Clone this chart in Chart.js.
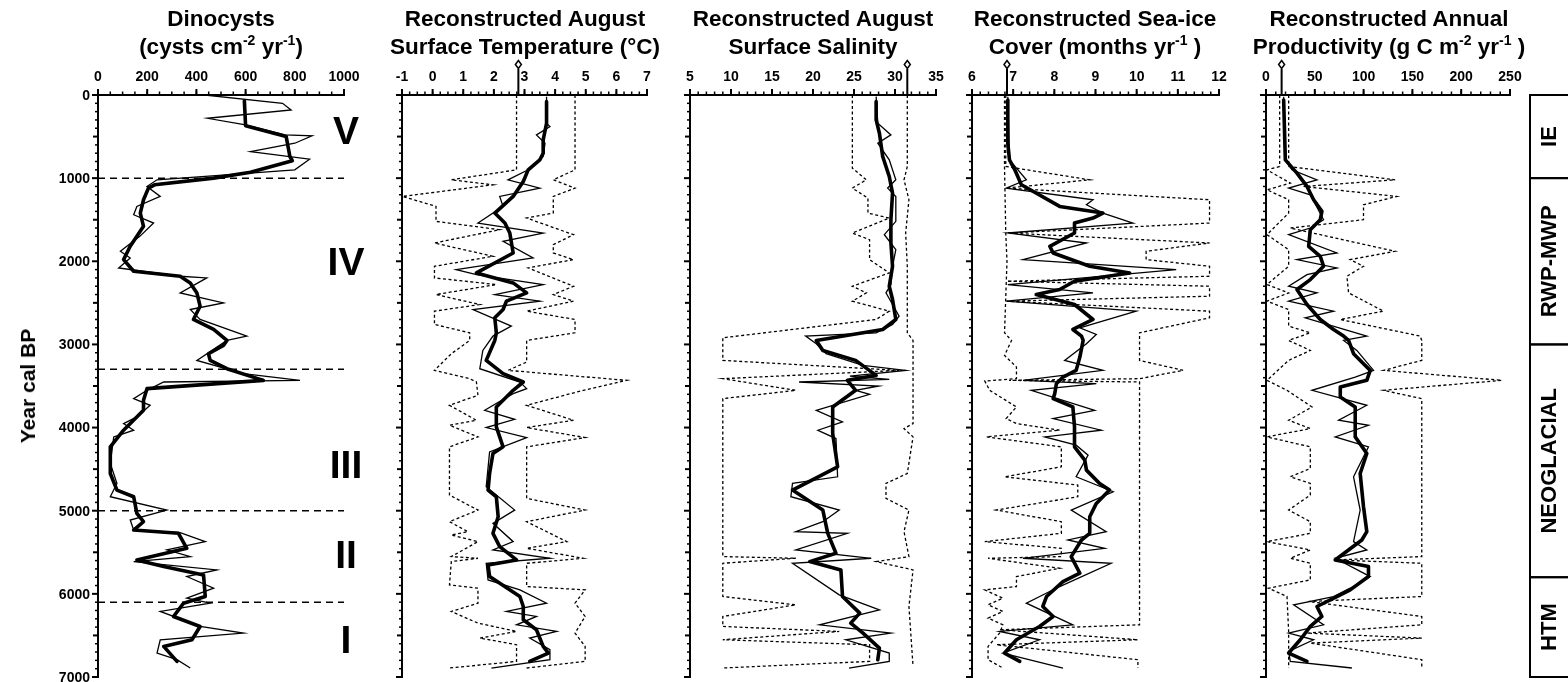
<!DOCTYPE html>
<html>
<head>
<meta charset="utf-8">
<title>Holocene dinocyst record</title>
<script src="https://cdn.jsdelivr.net/npm/chart.js@4.4.1/dist/chart.umd.min.js"></script>
<style>
  html, body { margin: 0; padding: 0; background: #fff; overflow: hidden; }
  #wrap { position: relative; width: 1568px; height: 682px; }
  #wrap canvas { position: absolute; left: 0; top: 0; }
  .title {
    position: absolute; top: 5px; transform: translateX(-50%);
    font: bold 22.5px "Liberation Sans", Arial, Helvetica, sans-serif;
    line-height: 28px; text-align: center; white-space: nowrap; color: #000;
  }
  .title sup { font-size: 14px; line-height: 0; vertical-align: 9px; }
  #ytitle {
    position: absolute; left: 28px; top: 386px;
    transform: translate(-50%, -50%) rotate(-90deg);
    font: bold 21px "Liberation Sans", Arial, Helvetica, sans-serif; white-space: nowrap;
  }
</style>
</head>
<body>
<div id="wrap">
  <canvas id="c1" width="1568" height="682"></canvas>
  <canvas id="c2" width="1568" height="682"></canvas>
  <canvas id="c3" width="1568" height="682"></canvas>
  <canvas id="c4" width="1568" height="682"></canvas>
  <canvas id="c5" width="1568" height="682"></canvas>
  <div class="title" style="left:221px">Dinocysts<br>(cysts cm<sup>-2</sup> yr<sup>-1</sup>)</div>
  <div class="title" style="left:525px">Reconstructed August<br>Surface Temperature (°C)</div>
  <div class="title" style="left:813px">Reconstructed August<br>Surface Salinity</div>
  <div class="title" style="left:1095px">Reconstructed Sea-ice<br>Cover (months yr<sup>-1</sup> )</div>
  <div class="title" style="left:1389px">Reconstructed Annual<br>Productivity (g C m<sup>-2</sup> yr<sup>-1</sup> )</div>
  <div id="ytitle">Year cal BP</div>
</div>
<script>
// ---- age axis ----
const yearTicks = [0, 1000, 2000, 3000, 4000, 5000, 6000, 7000];
const zoneBoundaries = [1000, 3300, 5000, 6100];
const zoneNumerals = [['V', 430], ['IV', 2015], ['III', 4450], ['II', 5530], ['I', 6560]];
const periods = [['IE', 0, 1000], ['RWP-MWP', 1000, 3000], ['NEOGLACIAL', 3000, 5800], ['HTM', 5800, 7000]];

// ---- dinocyst fluxes [year, cysts cm-2 yr-1] ----
const dinoTicks = [0, 200, 400, 600, 800, 1000];
const dinoRaw = [[0,435],[100,750],[180,785],[280,445],[360,600],[480,760],[490,870],[580,800],[680,620],[772,860],[900,800],[1020,240],[1100,199],[1220,253],[1340,158],[1440,145],[1540,226],[1700,170],[1880,91],[1960,131],[2080,84],[2180,334],[2200,442],[2380,334],[2500,510],[2580,375],[2700,415],[2900,605],[2952,524],[3192,402],[3352,591],[3432,821],[3452,267],[3552,199],[3652,145],[3732,212],[3872,158],[3952,104],[4032,145],[4112,64],[4432,50],[4672,77],[4832,50],[4992,280],[5112,131],[5232,145],[5264,334],[5372,436],[5472,280],[5552,375],[5612,145],[5712,483],[5792,361],[5932,470],[6052,361],[6112,456],[6212,253],[6392,415],[6472,591],[6552,253],[6712,240],[6792,321],[6892,375]];
const dinoSmooth = [[70,595],[370,600],[500,765],[740,780],[790,790],[930,620],[1000,470],[1080,230],[1120,205],[1260,185],[1420,172],[1580,185],[1820,131],[1980,104],[2120,145],[2180,334],[2260,375],[2380,402],[2540,415],[2700,388],[2820,470],[2952,524],[3012,510],[3112,449],[3192,456],[3292,524],[3432,672],[3532,199],[3672,185],[3792,185],[4032,104],[4232,50],[4552,50],[4752,77],[4832,145],[5032,158],[5132,185],[5232,145],[5272,327],[5452,361],[5592,158],[5672,267],[5772,429],[6032,436],[6112,348],[6272,307],[6392,415],[6552,382],[6632,267],[6812,321]];

// ---- August sea-surface temperature [year, °C] ----
const tempTicks = [-1, 0, 1, 2, 3, 4, 5, 6, 7];
const tempModern = 2.8;
const tempRaw = [[20,3.72],[340,3.72],[380,3.83],[480,3.39],[580,3.67],[740,3.61],[900,3.12],[1020,2.46],[1120,3.50],[1220,2.19],[1340,2.30],[1540,1.48],[1660,3.61],[1760,2.30],[1960,3.28],[2100,0.77],[2160,1.43],[2280,3.61],[2400,2.03],[2480,3.50],[2580,1.32],[2780,2.57],[2900,1.97],[3072,1.64],[3292,1.54],[3452,2.85],[3532,3.07],[3592,2.63],[3792,1.70],[3900,2.68],[4000,1.75],[4120,3.07],[4292,1.86],[4712,1.75],[4992,2.68],[5152,1.97],[5372,2.63],[5472,1.97],[5572,3.83],[5632,1.75],[5832,1.81],[5952,2.85],[6112,3.72],[6212,2.41],[6272,3.39],[6372,2.74],[6452,4.05],[6532,3.17],[6672,3.83],[6792,3.83],[6892,1.92]];
const tempSmooth = [[80,3.72],[340,3.72],[540,3.61],[700,3.61],[780,3.50],[900,3.12],[1040,2.96],[1220,2.63],[1420,2.03],[1540,2.36],[1660,2.52],[1900,2.63],[2140,1.43],[2260,2.63],[2380,3.07],[2480,2.41],[2580,2.30],[2680,2.03],[2860,2.08],[2952,2.03],[3192,1.75],[3352,2.30],[3452,2.96],[3552,2.63],[3752,2.08],[3992,2.08],[4232,2.30],[4312,1.97],[4552,1.86],[4752,1.81],[4832,2.08],[5072,2.14],[5272,1.97],[5432,2.19],[5592,2.74],[5652,1.81],[5792,1.86],[6032,2.85],[6152,2.96],[6312,2.96],[6432,3.39],[6632,3.61],[6712,3.78],[6812,3.17]];
const tempLow = [[0,2.74],[900,2.74],[1020,0.61],[1080,1.97],[1220,-0.98],[1340,0.11],[1520,0.11],[1620,2.19],[1780,0.06],[1940,1.97],[2060,0.06],[2200,0.06],[2280,2.08],[2400,0.11],[2520,1.54],[2600,0.06],[2760,0.06],[2860,1.21],[2952,1.21],[3112,0.61],[3312,0.06],[3412,1.21],[3452,1.43],[3612,1.48],[3732,0.55],[3912,1.43],[3972,0.55],[4112,1.48],[4232,0.55],[4812,0.55],[4992,1.48],[5132,0.55],[5252,1.15],[5292,0.61],[5372,1.48],[5552,0.61],[5572,1.48],[5612,0.61],[5892,0.55],[5932,1.48],[6112,1.48],[6212,0.61],[6352,1.48],[6452,2.74],[6532,1.54],[6612,2.74],[6812,2.74],[6892,0.55]];
const tempHigh = [[0,4.65],[900,4.65],[1020,3.94],[1120,4.65],[1220,3.94],[1420,3.94],[1480,3.07],[1680,4.60],[1800,3.94],[1900,3.94],[1980,4.60],[2080,3.12],[2300,4.60],[2400,3.94],[2480,4.60],[2600,3.07],[2700,4.65],[2860,4.65],[2952,3.07],[3212,3.07],[3312,2.46],[3432,6.34],[3552,4.92],[3732,3.07],[3912,4.60],[4000,3.07],[4120,4.98],[4232,3.07],[4852,3.07],[4992,4.98],[5132,3.07],[5372,4.38],[5452,3.07],[5572,4.92],[5632,3.07],[5912,3.07],[5952,4.98],[6112,4.65],[6272,4.98],[6472,4.65],[6632,4.98],[6812,4.98],[6892,3.07]];

// ---- August sea-surface salinity [year, psu] ----
const salTicks = [5, 10, 15, 20, 25, 30, 35];
const salModern = 31.5;
const salRaw = [[20,27.7],[340,27.9],[480,29.5],[580,27.9],[780,29.3],[1020,30.1],[1120,29.1],[1220,30.1],[1520,30.1],[1680,28.7],[1860,30.1],[2060,29.7],[2280,29.5],[2380,28.9],[2520,29.7],[2660,30.5],[2760,29.7],[2860,27.7],[2900,19.1],[2992,20.4],[3112,21.6],[3252,26.1],[3312,31.3],[3380,24.5],[3420,29.3],[3452,18.3],[3500,28.0],[3552,25.2],[3600,26.9],[3792,20.4],[3932,23.6],[4032,20.6],[4132,22.8],[4592,23.0],[4672,17.5],[4832,17.3],[4992,23.2],[5132,21.2],[5252,17.9],[5272,24.2],[5472,17.9],[5572,27.1],[5632,17.5],[6012,23.2],[6192,28.1],[6372,20.8],[6472,29.5],[6552,24.0],[6712,29.3],[6812,29.3],[6892,24.4]];
const salSmooth = [[80,27.7],[300,27.7],[460,28.1],[740,28.5],[980,29.3],[1180,29.7],[1500,29.5],[1780,29.5],[2060,29.7],[2300,29.3],[2460,29.7],[2700,30.1],[2820,28.5],[2952,20.4],[3072,21.2],[3192,25.2],[3372,27.7],[3432,24.2],[3552,25.2],[3752,22.4],[4072,22.4],[4472,23.0],[4752,17.5],[4992,21.2],[5272,21.8],[5512,22.8],[5612,19.6],[5712,23.4],[6032,23.6],[6232,25.7],[6352,24.6],[6472,26.1],[6652,28.1],[6792,27.9]];
const salLow = [[0,24.8],[880,24.8],[1020,26.5],[1120,24.8],[1240,26.7],[1420,26.7],[1480,29.3],[1660,24.8],[1740,26.9],[1980,26.9],[2140,29.3],[2300,24.8],[2380,26.5],[2480,24.8],[2600,29.3],[2700,27.7],[2920,9.0],[3192,9.0],[3312,30.5],[3412,9.0],[3552,17.9],[3652,9.0],[5552,9.0],[5572,17.9],[5632,9.0],[6032,9.0],[6132,17.9],[6272,9.0],[6392,9.0],[6452,23.2],[6552,9.0],[6612,26.9],[6812,26.9],[6892,9.0]];
const salHigh = [[0,31.5],[860,31.5],[1020,31.1],[1260,31.7],[1660,31.3],[2060,31.5],[2860,31.5],[2952,32.2],[3952,32.2],[4012,31.1],[4112,32.2],[4552,31.5],[4672,28.9],[4852,28.9],[4992,31.7],[5252,31.1],[5552,31.7],[5612,27.7],[5712,32.2],[6152,31.7],[6872,32.2]];

// ---- sea-ice cover [year, months yr-1] ----
const iceTicks = [6, 7, 8, 9, 10, 11, 12];
const iceModern = 6.85;
const iceRaw = [[20,6.87],[780,6.91],[1020,7.32],[1120,6.83],[1260,8.94],[1320,8.78],[1420,9.18],[1540,9.91],[1660,6.87],[1780,8.78],[1980,7.24],[2100,10.96],[2280,6.87],[2380,8.94],[2480,6.83],[2600,9.99],[2800,8.62],[2880,9.02],[2992,8.78],[3192,8.25],[3312,9.18],[3432,7.24],[3472,9.02],[3552,7.44],[3792,8.98],[3892,7.97],[4032,9.14],[4112,7.77],[4212,8.53],[4332,8.82],[4592,8.53],[4772,9.43],[4992,8.41],[5252,9.26],[5352,8.33],[5452,9.22],[5572,7.24],[5632,9.38],[5912,8.13],[6112,7.32],[6372,8.45],[6452,6.67],[6552,7.64],[6712,6.75],[6892,8.21]];
const iceSmooth = [[60,6.87],[580,6.87],[780,6.91],[900,7.04],[1080,7.20],[1340,8.13],[1420,9.18],[1480,8.94],[1540,8.49],[1660,8.49],[1820,7.89],[1900,7.97],[2060,8.86],[2140,9.83],[2240,8.49],[2340,8.13],[2400,7.56],[2520,8.49],[2700,8.94],[2820,8.45],[2900,8.66],[2952,8.70],[3152,8.62],[3312,8.53],[3392,8.21],[3472,8.05],[3592,8.01],[3652,7.97],[3752,8.45],[3992,8.49],[4232,8.49],[4392,8.74],[4512,8.78],[4672,9.10],[4752,9.34],[4912,9.02],[5072,8.86],[5272,8.86],[5352,8.66],[5552,8.41],[5752,8.62],[5852,8.21],[6032,7.81],[6152,7.72],[6272,7.97],[6392,7.64],[6552,7.08],[6712,6.79],[6812,7.16]];
const iceLow = [[0,6.79],[860,6.79],[1660,6.82],[2000,6.85],[2860,6.79],[2952,6.96],[3132,6.79],[3272,7.08],[3412,7.08],[3440,6.31],[3552,6.43],[3752,7.08],[3892,6.83],[3952,7.08],[4032,8.13],[4112,6.35],[4232,8.17],[4472,8.17],[4592,6.79],[4692,8.57],[4832,8.57],[4992,6.59],[5132,8.17],[5272,8.17],[5372,6.31],[5452,8.17],[5552,8.17],[5572,6.39],[5692,8.13],[5792,7.08],[5912,7.08],[5952,6.31],[6052,6.75],[6132,6.39],[6212,6.75],[6292,6.39],[6372,6.75],[6472,6.67],[6632,6.39],[6792,6.39],[6892,6.75]];
const iceHigh = [[0,6.82],[860,6.82],[1020,8.86],[1120,6.83],[1260,11.77],[1540,11.77],[1660,6.87],[1780,11.77],[1880,10.23],[1980,10.23],[2060,11.77],[2180,11.77],[2240,6.85],[2300,11.77],[2420,11.77],[2480,6.85],[2600,11.77],[2680,11.77],[2860,10.07],[3192,10.07],[3312,11.13],[3412,10.07],[3432,6.9],[3452,10.07],[6372,10.07],[6432,6.67],[6552,10.03],[6612,6.59],[6792,10.03],[6892,10.03]];

// ---- annual productivity [year, g C m-2 yr-1] ----
const prodTicks = [0, 50, 100, 150, 200, 250];
const prodModern = 16;
const prodRaw = [[20,18.1],[780,19.8],[900,26.6],[1020,52.2],[1120,23.2],[1200,45.4],[1500,59.0],[1600,45.4],[1680,23.2],[1900,72.6],[1980,31.7],[2080,72.6],[2160,42.0],[2300,23.2],[2380,52.2],[2480,23.2],[2600,69.2],[2680,40.2],[2900,103.3],[2952,79.5],[3072,93.1],[3312,110.2],[3392,91.4],[3552,47.1],[3732,103.3],[3912,74.4],[3972,105.0],[4112,70.9],[4232,105.0],[4592,89.7],[4992,96.5],[5372,89.7],[5472,103.3],[5572,70.9],[5792,106.8],[5932,86.3],[6032,69.2],[6132,28.3],[6372,59.0],[6472,23.2],[6552,48.8],[6692,23.2],[6812,24.9],[6892,88.0]];
const prodSmooth = [[60,18.1],[780,19.8],[940,31.7],[1100,42.0],[1260,48.8],[1400,57.3],[1500,55.6],[1620,45.4],[1820,43.7],[1940,55.6],[2060,59.0],[2220,45.4],[2340,31.7],[2520,42.0],[2700,55.6],[2820,69.2],[2900,79.5],[2952,84.6],[3112,89.7],[3232,99.9],[3312,106.8],[3432,103.3],[3512,76.1],[3632,76.1],[3752,91.4],[4112,91.4],[4312,103.3],[4552,96.5],[4952,99.9],[5252,103.3],[5352,98.2],[5592,70.9],[5672,105.0],[5792,105.0],[5952,86.3],[6032,72.6],[6152,52.2],[6272,57.3],[6392,45.4],[6552,35.1],[6712,23.2],[6812,42.0]];
const prodLow = [[0,14],[860,14],[900,1.0],[1060,24.9],[1140,1.0],[1260,23.2],[1420,23.2],[1680,1.0],[1860,23.2],[2060,23.2],[2280,1.0],[2380,23.2],[2480,1.0],[2580,23.2],[2780,23.2],[2860,45.4],[2952,23.2],[3072,45.4],[3192,23.2],[3432,1.0],[3552,21.5],[3752,47.1],[3912,23.2],[4012,45.4],[4112,1.0],[4232,45.4],[4492,45.4],[4592,24.9],[4672,45.4],[4812,45.4],[4992,23.2],[5132,45.4],[5272,45.4],[5372,1.0],[5472,45.4],[5572,24.9],[5632,45.4],[5832,45.4],[5932,2.7],[6032,21.5],[6452,23.2],[6892,23.2]];
const prodHigh = [[0,23.2],[860,23.2],[1020,132.3],[1100,38.5],[1220,134.0],[1320,99.9],[1500,99.9],[1600,24.9],[1880,132.3],[1980,86.3],[2060,99.9],[2180,82.9],[2380,84.6],[2600,120.4],[2700,76.1],[2900,157.9],[2952,159.6],[3192,159.6],[3312,120.4],[3432,241.5],[3552,120.4],[3652,159.6],[5552,159.6],[5592,70.9],[5632,159.6],[6032,159.6],[6092,43.7],[6272,159.6],[6372,159.6],[6472,42.0],[6532,159.6],[6592,45.4],[6792,159.6],[6892,159.6]];

// ---- drawing ----
const FONT = '"Liberation Sans", Arial, Helvetica, sans-serif';
const PLOT_TOP = 95, PLOT_BOTTOM = 677;

const toPoints = pairs => pairs.map(([yr, v]) => ({ x: v, y: yr }));
const thinSet = pairs => ({ data: toPoints(pairs), borderColor: '#000', borderWidth: 1.3, borderJoinStyle: 'miter', order: 2 });
const thickSet = pairs => ({ data: toPoints(pairs), borderColor: '#000', borderWidth: 3.6, borderJoinStyle: 'round', borderCapStyle: 'round', order: 1 });
const dotSet = pairs => ({ data: toPoints(pairs), borderColor: '#000', borderWidth: 1.3, borderDash: [3, 2.5], order: 3 });

function line(ctx, x1, y1, x2, y2) { ctx.beginPath(); ctx.moveTo(x1, y1); ctx.lineTo(x2, y2); ctx.stroke(); }

function axesPlugin(cfg) {
  return {
    id: 'axes_' + cfg.key,
    afterDatasetsDraw(chart) {
      const { ctx, chartArea: a, scales: { x, y } } = chart;
      ctx.save();
      ctx.strokeStyle = '#000';
      ctx.fillStyle = '#000';
      ctx.lineCap = 'butt';
      // axis lines
      ctx.lineWidth = 2;
      line(ctx, a.left - 1, a.top, a.right + 1, a.top);
      line(ctx, a.left, a.top - 1, a.left, a.bottom + 1);
      // value axis ticks (top)
      ctx.lineWidth = 1.5;
      const n = Math.round((cfg.max - cfg.min) / cfg.minor);
      for (let i = 0; i <= n; i++) {
        const px = x.getPixelForValue(cfg.min + i * cfg.minor);
        line(ctx, px, a.top, px, a.top - 3.5);
      }
      ctx.lineWidth = 2;
      cfg.ticks.forEach(v => { const px = x.getPixelForValue(v); line(ctx, px, a.top + 1, px, a.top - 6); });
      ctx.font = 'bold 14px ' + FONT;
      ctx.textAlign = 'center';
      ctx.textBaseline = 'alphabetic';
      cfg.ticks.forEach(v => ctx.fillText(String(v), x.getPixelForValue(v), a.top - 14));
      // age axis ticks (left)
      for (let yr = 0; yr <= 7000; yr += 100) {
        const py = y.getPixelForValue(yr);
        const len = yr % 1000 === 0 ? 6 : (yr % 500 === 0 ? 5 : 3);
        ctx.lineWidth = yr % 500 === 0 ? 2 : 1.5;
        line(ctx, a.left, py, a.left - len, py);
      }
      if (cfg.yLabels) {
        ctx.textAlign = 'right';
        ctx.textBaseline = 'middle';
        yearTicks.forEach(yr => ctx.fillText(String(yr), a.left - 8, y.getPixelForValue(yr) + 1));
      }
      // modern value marker above the axis
      if (cfg.modern !== undefined) {
        const px = x.getPixelForValue(cfg.modern);
        ctx.lineWidth = 2;
        line(ctx, px, a.top, px, a.top - 26);
        const cy = a.top - 30.5;
        ctx.beginPath();
        ctx.moveTo(px, cy - 4); ctx.lineTo(px + 3, cy); ctx.lineTo(px, cy + 4); ctx.lineTo(px - 3, cy); ctx.closePath();
        ctx.fillStyle = '#fff'; ctx.fill();
        ctx.lineWidth = 1.5; ctx.stroke();
        ctx.fillStyle = '#000';
      }
      ctx.restore();
    }
  };
}

const numeralPlugin = {
  id: 'numerals',
  afterDatasetsDraw(chart) {
    const { ctx, chartArea: a, scales: { y } } = chart;
    ctx.save();
    ctx.font = 'bold 39px ' + FONT;
    ctx.textAlign = 'center';
    ctx.textBaseline = 'middle';
    ctx.fillStyle = '#000';
    zoneNumerals.forEach(([t, yr]) => ctx.fillText(t, a.right + 2, y.getPixelForValue(yr) + 2));
    ctx.restore();
  }
};

const periodPlugin = {
  id: 'periods',
  afterDatasetsDraw(chart) {
    const { ctx, scales: { y } } = chart;
    const left = 1530, right = 1575;
    ctx.save();
    ctx.strokeStyle = '#000';
    ctx.lineWidth = 2;
    ctx.font = 'bold 22px ' + FONT;
    ctx.textAlign = 'center';
    ctx.textBaseline = 'middle';
    periods.forEach(([name, y0, y1]) => {
      const top = y.getPixelForValue(y0), bot = y.getPixelForValue(y1);
      ctx.strokeRect(left, top, right - left, bot - top);
      ctx.save();
      ctx.translate(left + 19, (top + bot) / 2);
      ctx.rotate(-Math.PI / 2);
      ctx.fillText(name, 0, 1);
      ctx.restore();
    });
    ctx.restore();
  }
};

function makePanel(id, left, right, xmin, xmax, datasets, plugins) {
  return new Chart(document.getElementById(id), {
    type: 'line',
    data: { datasets },
    options: {
      responsive: false,
      animation: false,
      devicePixelRatio: 1,
      indexAxis: 'y',
      layout: { padding: { left, right: 1568 - right, top: PLOT_TOP, bottom: 682 - PLOT_BOTTOM } },
      plugins: { legend: { display: false }, tooltip: { enabled: false } },
      elements: { point: { radius: 0, hoverRadius: 0 }, line: { tension: 0, fill: false } },
      scales: {
        x: { type: 'linear', min: xmin, max: xmax, display: false },
        y: { type: 'linear', min: 0, max: 7000, reverse: true, display: false }
      }
    },
    plugins
  });
}

const boundarySets = zoneBoundaries.map(b => ({
  data: [{ x: 0, y: b }, { x: 1000, y: b }],
  borderColor: '#000', borderWidth: 1.5, borderDash: [7, 5], order: 4
}));

makePanel('c1', 98, 344, 0, 1000,
  [...boundarySets, thinSet(dinoRaw), thickSet(dinoSmooth)],
  [axesPlugin({ key: 'dino', ticks: dinoTicks, min: 0, max: 1000, minor: 50, yLabels: true }), numeralPlugin]);

makePanel('c2', 402, 647, -1, 7,
  [dotSet(tempLow), dotSet(tempHigh), thinSet(tempRaw), thickSet(tempSmooth)],
  [axesPlugin({ key: 'temp', ticks: tempTicks, min: -1, max: 7, minor: 0.25, modern: tempModern })]);

makePanel('c3', 690, 936, 5, 35,
  [dotSet(salLow), dotSet(salHigh), thinSet(salRaw), thickSet(salSmooth)],
  [axesPlugin({ key: 'sal', ticks: salTicks, min: 5, max: 35, minor: 1, modern: salModern })]);

makePanel('c4', 972, 1219, 6, 12,
  [dotSet(iceLow), dotSet(iceHigh), thinSet(iceRaw), thickSet(iceSmooth)],
  [axesPlugin({ key: 'ice', ticks: iceTicks, min: 6, max: 12, minor: 0.2, modern: iceModern })]);

makePanel('c5', 1266, 1510, 0, 250,
  [dotSet(prodLow), dotSet(prodHigh), thinSet(prodRaw), thickSet(prodSmooth)],
  [axesPlugin({ key: 'prod', ticks: prodTicks, min: 0, max: 250, minor: 10, modern: prodModern }), periodPlugin]);
</script>
</body>
</html>
